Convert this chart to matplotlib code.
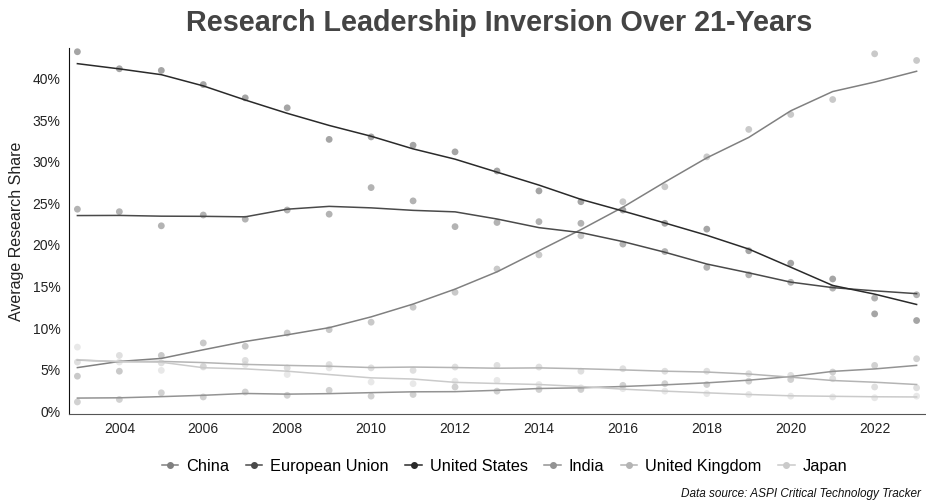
import pandas as pd
import matplotlib.pyplot as plt
from matplotlib.lines import Line2D

plt.rcParams['font.family'] = ['Liberation Sans', 'DejaVu Sans']

# data (percent of research share)
years = list(range(2003, 2024))
china = [4.2, 4.8, 6.7, 8.2, 7.8, 9.4, 9.8, 10.7, 12.5, 14.3, 17.1, 18.8, 21.1, 25.2, 27.0, 30.6, 33.9, 35.7, 37.5, 43.0, 42.2]
eu = [24.3, 24.0, 22.3, 23.6, 23.1, 24.2, 23.7, 26.9, 25.3, 22.2, 22.7, 22.8, 22.6, 20.1, 19.2, 17.3, 16.4, 15.5, 14.8, 13.6, 14.0]
us = [43.25, 41.2, 41.0, 39.3, 37.7, 36.5, 32.7, 33.0, 32.0, 31.2, 28.9, 26.5, 25.2, 24.2, 22.6, 21.9, 19.3, 17.8, 15.9, 11.7, 10.9]
india = [1.1, 1.4, 2.2, 1.7, 2.3, 1.9, 2.5, 1.8, 2.0, 2.9, 2.4, 2.6, 2.6, 3.1, 3.3, 3.2, 3.6, 3.8, 4.7, 5.5, 6.3]
uk = [5.9, 6.7, 5.8, 5.4, 6.1, 5.2, 5.6, 5.2, 4.9, 5.3, 5.5, 5.3, 4.8, 5.1, 4.8, 4.8, 4.5, 4.3, 3.9, 2.9, 2.8]
japan = [7.7, 5.9, 4.9, 5.3, 5.6, 4.4, 5.2, 3.5, 3.3, 3.6, 3.7, 3.2, 2.8, 2.7, 2.4, 2.1, 2.0, 1.8, 1.7, 1.6, 1.8]

names = ["China", "European Union", "United States", "India", "United Kingdom", "Japan"]
series = [china, eu, us, india, uk, japan]
colors = ["#808080", "#4a4a4a", "#2a2a2a", "#939393", "#b4b4b4", "#cacaca"]

df = pd.DataFrame(dict(zip(names, series)), index=years)
# trend lines = centred 5-year rolling mean
trend = df.rolling(5, center=True, min_periods=1).mean()

fig = plt.figure(figsize=(9.26, 5.04), dpi=100)
ax = fig.add_axes([69 / 926, 90 / 504, 856 / 926, 366 / 504])

for name, c in zip(names, colors):
    ax.scatter(df.index, df[name], s=24, color=c, alpha=0.42, edgecolors='none', zorder=2)
    ax.plot(trend.index, trend[name], color=c, lw=1.1, zorder=3)

ax.set_xlim(2002.8, 2023.2)
ax.set_ylim(-0.35, 43.7)
ax.set_xticks(range(2004, 2023, 2))
ax.set_yticks(range(0, 41, 5))
ax.set_yticklabels([f"{v}%" for v in range(0, 41, 5)])
ax.tick_params(length=0, labelsize=10, colors='#222222', pad=6)
for s in ['top', 'right']:
    ax.spines[s].set_visible(False)
ax.spines['left'].set_color('#111111')
ax.spines['bottom'].set_color('#555555')
ax.set_ylabel("Average Research Share", fontsize=11.5, color='#222222', labelpad=6)

fig.text(0.539, 0.955, "Research Leadership Inversion Over 21-Years", ha='center', va='center',
         fontsize=20.7, fontweight='bold', color='#444444')

handles = [Line2D([0], [0], color=c, lw=1.1, marker='o', markersize=4) for c in colors]
fig.legend(handles, names, loc='center', bbox_to_anchor=(0.545, 0.075), ncol=6, frameon=False,
           fontsize=11.8, handlelength=1.0, handletextpad=0.5, columnspacing=1.0)

fig.text(0.995, 0.02, "Data source: ASPI Critical Technology Tracker", ha='right', va='center',
         fontsize=8.5, style='italic', color='#111111')

fig.savefig("out.png", dpi=100)
